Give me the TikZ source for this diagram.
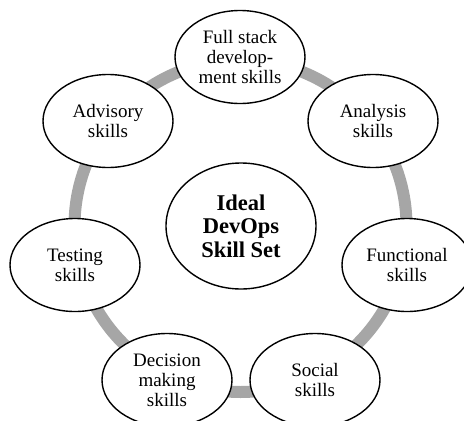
\documentclass[tikz,border=0pt]{standalone}
\usepackage{fontspec}
\setmainfont{Liberation Serif}
\usetikzlibrary{shapes.geometric}

\begin{document}
\begin{tikzpicture}[x=1pt, y=-1pt]
    % Define block styles
    \tikzstyle{skill} = [ellipse, draw, fill=white, line width=1.4pt,
        minimum width=130pt, minimum height=93pt, inner sep=0pt,
        align=center, font=\fontsize{19}{20}\selectfont]
    \tikzstyle{core} = [skill, minimum width=150pt, minimum height=126pt,
        font=\fontsize{22.5}{23.5}\selectfont\bfseries]
    \tikzstyle{ring} = [draw=black!35, line width=12pt]

    \useasboundingbox (0,0) rectangle (464,421);

    % Ring behind the skills
    \coordinate (hub) at (240.5,226);
    \draw [ring] (hub) circle (166);

    % Centre
    \node [core] (ideal) at (241,226) {Ideal\\DevOps\\Skill Set};

    % Skills round the ring
    \node [skill] (fullstack) at (240,57) {Full stack\\develop-\\ment skills};
    \node [skill] (analysis) at (373,121) {Analysis\\skills};
    \node [skill] (functional) at (407,265) {Functional\\skills};
    \node [skill] (social) at (315,380) {Social\\skills};
    \node [skill] (decision) at (167,380) {Decision\\making\\skills};
    \node [skill] (testing) at (75,265) {Testing\\skills};
    \node [skill] (advisory) at (108,121) {Advisory\\skills};

\end{tikzpicture}
\end{document}
